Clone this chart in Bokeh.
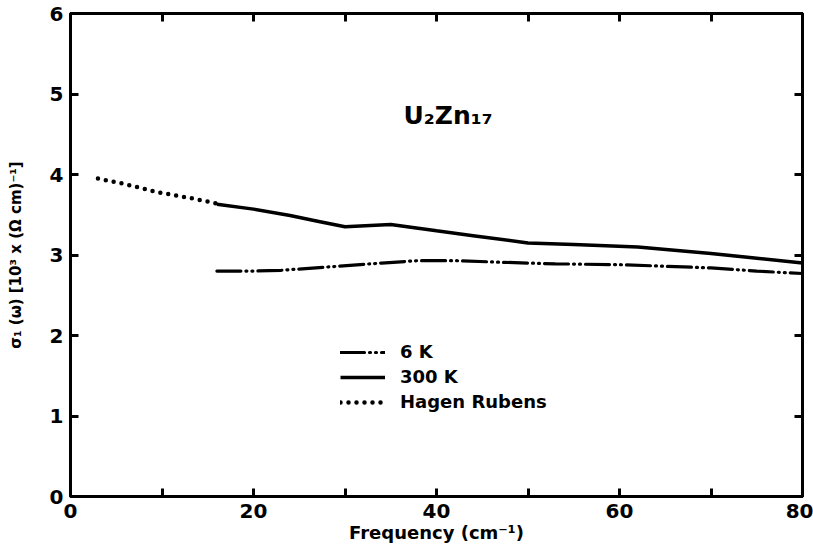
from bokeh.plotting import figure
from bokeh.models import (LinearAxis, Range1d, FixedTicker, Label, Legend, LegendItem)
from bokeh.embed import file_html
from bokeh.resources import INLINE

# ---- data ----
hr_x = [3, 6, 9.5, 13, 16]
hr_y = [3.95, 3.88, 3.78, 3.71, 3.64]

k300_x = [16, 20, 24, 27, 30, 35, 40, 44, 50, 55, 62, 70, 80]
k300_y = [3.63, 3.57, 3.49, 3.42, 3.35, 3.38, 3.30, 3.24, 3.15, 3.13, 3.10, 3.02, 2.90]

k6_x = [16, 20, 23, 28, 34, 38, 42, 47, 53, 60, 65, 70, 75, 80]
k6_y = [2.80, 2.80, 2.81, 2.85, 2.90, 2.93, 2.93, 2.91, 2.89, 2.88, 2.86, 2.84, 2.80, 2.77]

x_major = [0, 20, 40, 60, 80]
x_minor = [10, 30, 50, 70]
y_ticks = [0, 1, 2, 3, 4, 5, 6]

FONT = "DejaVu Sans"

p = figure(width=813, height=559, output_backend="svg", toolbar_location=None,
           x_range=Range1d(0, 80), y_range=Range1d(0, 6),
           min_border_left=70, min_border_right=11, min_border_top=13, min_border_bottom=63,
           x_axis_label="Frequency (cm⁻¹)",
           y_axis_label="σ₁ (ω) [10³ x (Ω cm)⁻¹]")
p.grid.visible = False
p.outline_line_color = "black"
p.outline_line_width = 3
p.background_fill_color = "white"
p.border_fill_color = "white"

for ax in p.xaxis:
    ax.ticker = FixedTicker(ticks=x_major, minor_ticks=x_minor)
for ax in p.yaxis:
    ax.ticker = FixedTicker(ticks=y_ticks)

for ax in p.xaxis + p.yaxis:
    ax.axis_line_width = 3
    ax.axis_line_color = "black"
    ax.major_tick_in = 8
    ax.major_tick_out = 0
    ax.major_tick_line_width = 3
    ax.minor_tick_in = 8
    ax.minor_tick_out = 0
    ax.minor_tick_line_width = 3
    ax.minor_tick_line_color = "black"
    ax.major_label_text_font = FONT
    ax.major_label_text_font_style = "bold"
    ax.major_label_text_font_size = "20px"
    ax.major_label_text_color = "black"
    ax.major_label_standoff = 7
    ax.axis_label_text_font = FONT
    ax.axis_label_text_font_style = "bold"
    ax.axis_label_text_color = "black"

p.xaxis.axis_label_text_font_size = "18px"
p.xaxis.axis_label_standoff = 1
p.yaxis.axis_label_text_font_size = "15px"
p.yaxis.axis_label_standoff = 22

# mirrored ticks on top and right (no labels)
top = LinearAxis(ticker=FixedTicker(ticks=x_major, minor_ticks=x_minor))
right = LinearAxis(ticker=FixedTicker(ticks=y_ticks))
for ax in (top, right):
    ax.axis_line_width = 3
    ax.major_tick_in = 8
    ax.major_tick_out = 0
    ax.major_tick_line_width = 3
    ax.minor_tick_in = 8
    ax.minor_tick_out = 0
    ax.minor_tick_line_width = 3
    ax.major_label_text_color = None
    ax.major_label_text_font_size = "1px"
    ax.major_label_standoff = 0
right.minor_tick_line_color = None
p.add_layout(top, "above")
p.add_layout(right, "right")

r6 = p.line(k6_x, k6_y, line_color="black", line_width=3.2, line_dash="24 5 1 5 1 5",
            line_cap="round")
r300 = p.line(k300_x, k300_y, line_color="black", line_width=3.5)
rhr = p.line(hr_x, hr_y, line_color="black", line_width=4.5, line_dash="0 8",
             line_cap="round")

legend = Legend(items=[LegendItem(label="6 K", renderers=[r6]),
                       LegendItem(label="300 K", renderers=[r300]),
                       LegendItem(label="Hagen Rubens", renderers=[rhr])],
                location=(270, 84), glyph_width=45, glyph_height=20, label_height=20,
                label_standoff=15, spacing=4, padding=0, margin=0,
                border_line_color=None, background_fill_alpha=0,
                label_text_font=FONT, label_text_font_style="bold",
                label_text_font_size="18px", label_text_color="black")
p.add_layout(legend, "center")

p.add_layout(Label(x=333, y=381, x_units="screen", y_units="screen", text="U₂Zn₁₇",
                   text_font=FONT, text_font_style="bold", text_font_size="25px",
                   text_color="black", text_baseline="alphabetic", text_align="left"))

open("out.html", "w").write(file_html(p, INLINE))
